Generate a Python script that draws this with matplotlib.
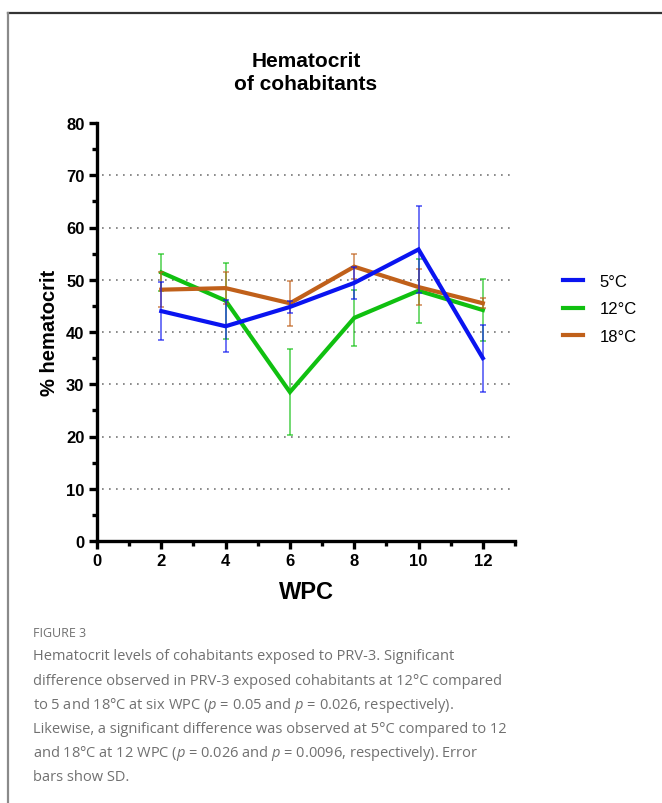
import numpy as np
import matplotlib
matplotlib.use("Agg")
import matplotlib.pyplot as plt
from matplotlib.lines import Line2D

# データ (WPC ごとの平均とSD)
wpc = [2, 4, 6, 8, 10, 12]
series_names = ["5°C", "12°C", "18°C"]
mean_5 = [44.0, 41.1, 44.8, 49.4, 55.8, 35.0]
sd_5 = [5.5, 5.0, 1.1, 3.0, 8.4, 6.4]
mean_12 = [51.4, 46.0, 28.5, 42.7, 47.9, 44.2]
sd_12 = [3.5, 7.3, 8.3, 5.3, 6.1, 5.9]
mean_18 = [48.1, 48.4, 45.5, 52.5, 48.6, 45.5]
sd_18 = [3.4, 3.1, 4.3, 2.4, 3.5, 1.0]
colors = ["#0a14f0", "#10c010", "#c0601a"]

caption_head = "FIGURE 3"
caption_lines = [
    "Hematocrit levels of cohabitants exposed to PRV-3. Significant",
    "difference observed in PRV-3 exposed cohabitants at 12°C compared",
    "to 5 and 18°C at six WPC ($p$ = 0.05 and $p$ = 0.026, respectively).",
    "Likewise, a significant difference was observed at 5°C compared to 12",
    "and 18°C at 12 WPC ($p$ = 0.026 and $p$ = 0.0096, respectively). Error",
    "bars show SD.",
]

plt.rcParams["font.family"] = ["Liberation Sans", "DejaVu Sans"]
plt.rcParams["mathtext.fontset"] = "custom"
plt.rcParams["mathtext.rm"] = "Open Sans"
plt.rcParams["mathtext.it"] = "Open Sans:italic"

W, H = 662, 804
fig = plt.figure(figsize=(W / 100, H / 100), dpi=100)

# 枠線
fig.add_artist(Line2D([8 / W, 1], [1 - 14 / H, 1 - 14 / H], color="#333333", lw=1.6))
fig.add_artist(Line2D([8 / W, 8 / W], [0, 1 - 14 / H], color="#8a8a8a", lw=1.6))

# グラフ
ax = fig.add_axes([97 / W, 1 - 542 / H, (515 - 97) / W, (542 - 124) / H])
all_means = [mean_5, mean_12, mean_18]
all_sds = [sd_5, sd_12, sd_18]
zorders = [5, 3, 4]
for name, m, s, c, z in zip(series_names, all_means, all_sds, colors, zorders):
    ax.errorbar(wpc, m, yerr=s, color=c, lw=0, elinewidth=1.1, capsize=2,
                capthick=1.1, alpha=0.75, zorder=z)
    ax.plot(wpc, m, color=c, lw=3, label=name, zorder=z + 0.5, solid_joinstyle="miter")

for yv in range(10, 80, 10):
    ax.axhline(yv, xmin=0.012, xmax=1, color="#777777", lw=1.2,
               linestyle=(0, (1, 3.2)), zorder=1)

ax.set_xlim(0, 13)
ax.set_ylim(0, 80)
ax.set_xticks(range(0, 13, 2))
ax.set_xticks(range(1, 14, 2), minor=True)
ax.set_yticks(range(0, 81, 10))
ax.set_yticks(range(5, 80, 10), minor=True)
for side in ["top", "right"]:
    ax.spines[side].set_visible(False)
for side in ["left", "bottom"]:
    ax.spines[side].set_linewidth(2.4)
ax.tick_params(which="major", length=6, width=2.4, labelsize=12, pad=3)
ax.tick_params(which="minor", length=3.5, width=2.4)
for lab in ax.get_xticklabels() + ax.get_yticklabels():
    lab.set_fontweight("bold")
ax.set_ylabel("% hematocrit", fontsize=14.5, fontweight="bold", labelpad=5)
ax.set_xlabel("WPC", fontsize=17, fontweight="bold", labelpad=8)

fig.text(306 / W, 1 - 73 / H, "Hematocrit\nof cohabitants", ha="center", va="center",
         fontsize=15, fontweight="bold", linespacing=1.3)

ax.legend(loc="center left", bbox_to_anchor=(548 / W, 1 - 310 / H),
          bbox_transform=fig.transFigure, frameon=False, fontsize=12,
          handlelength=1.2, handletextpad=1.0, labelspacing=0.75)

# キャプション
fig.text(33 / W, 1 - 634 / H, caption_head, fontsize=9, color="#707070",
         family="Open Sans", va="center")
for i, line in enumerate(caption_lines):
    fig.text(33 / W, 1 - (657 + i * 24.2) / H, line, fontsize=10.5, color="#707070",
             family="Open Sans", va="center")

plt.savefig("out.png", dpi=100)
